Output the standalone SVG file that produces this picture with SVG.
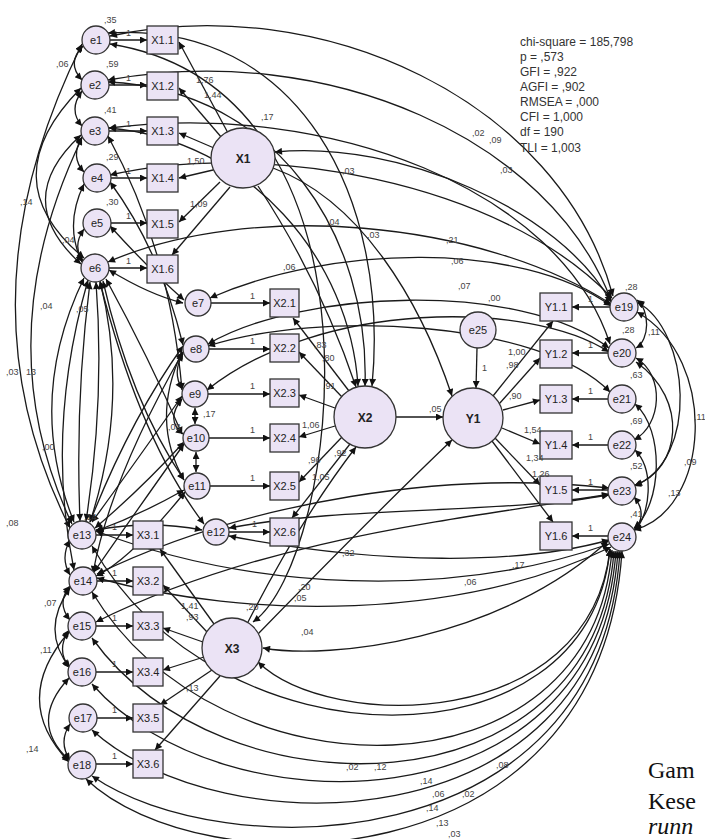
<svg xmlns="http://www.w3.org/2000/svg" width="705" height="839" viewBox="0 0 705 839">
<style>
.n circle,.n ellipse,.n rect{fill:#ebe3f5;stroke:#333;stroke-width:1.3}
.n text{font-family:"Liberation Sans",Arial,sans-serif;font-size:11px;fill:#222;text-anchor:middle}
.big text{font-size:12px;font-weight:bold}
#conn path{fill:none;stroke:#1a1a1a;stroke-width:1.3}
#conn .r{marker-end:url(#ah)}
#conn .c{marker-start:url(#ah);marker-end:url(#ah)}
.lb{font-family:"Liberation Sans",Arial,sans-serif;font-size:9px;fill:#444}
.st{font-family:"Liberation Sans",Arial,sans-serif;font-size:12px;fill:#333}
.cap{font-family:"Liberation Serif","Times New Roman",serif;font-size:24px;fill:#111}
</style>
<defs>
<marker id="ah" viewBox="0 0 10 10" refX="10" refY="5" markerWidth="10" markerHeight="7" markerUnits="userSpaceOnUse" orient="auto-start-reverse"><path d="M0,0 L10,5 L0,10 z" fill="#111"/></marker>
</defs>
<rect width="705" height="839" fill="#fff"/>
<g id="conn">
<!-- regressions e -> X1.i -->
<path class="r" d="M110,40 H147"/><path class="r" d="M109,85 H147"/><path class="r" d="M109,131 H147"/>
<path class="r" d="M111,178 H147"/><path class="r" d="M111,223 H147"/><path class="r" d="M109,268 H147"/>
<!-- X1 -> X1.i -->
<path class="r" d="M228,133 L179,42"/><path class="r" d="M222,138 L179,88"/><path class="r" d="M214,148 L179,133"/>
<path class="r" d="M213,170 L179,178"/><path class="r" d="M220,182 L179,222"/><path class="r" d="M230,187 L172,255"/>
<!-- e -> X2.i -->
<path class="r" d="M211,303 H270"/><path class="r" d="M209,349 H270"/><path class="r" d="M208,394 H270"/>
<path class="r" d="M209,438 H270"/><path class="r" d="M210,486 H270"/><path class="r" d="M229,532 H270"/>
<!-- X2 -> X2.i -->
<path class="r" d="M349,391 L293,318"/><path class="r" d="M342,397 L299,352"/><path class="r" d="M335,408 L299,395"/>
<path class="r" d="M335,426 L299,437"/><path class="r" d="M342,437 L299,482"/><path class="r" d="M350,444 L292,518"/>
<!-- e -> X3.i -->
<path class="r" d="M96,535 H133"/><path class="r" d="M97,581 H133"/><path class="r" d="M96,626 H133"/>
<path class="r" d="M96,672 H133"/><path class="r" d="M97,718 H133"/><path class="r" d="M96,764 H133"/>
<!-- X3 -> X3.i -->
<path class="r" d="M214,624 L160,549"/><path class="r" d="M207,632 L163,585"/><path class="r" d="M203,642 L163,628"/>
<path class="r" d="M204,657 L163,670"/><path class="r" d="M212,670 L160,705"/><path class="r" d="M220,676 L155,750"/>
<!-- e -> Y1.i -->
<path class="r" d="M610,307 H572"/><path class="r" d="M608,353 H572"/><path class="r" d="M608,399 H572"/>
<path class="r" d="M608,445 H572"/><path class="r" d="M608,490 H572"/><path class="r" d="M608,536 H572"/>
<!-- Y1 -> Y1.i -->
<path class="r" d="M493,396 L553,321"/><path class="r" d="M499,404 L540,358"/><path class="r" d="M503,410 L540,400"/>
<path class="r" d="M502,428 L540,444"/><path class="r" d="M495,438 L540,485"/><path class="r" d="M492,441 L553,522"/>
<!-- structural -->
<path class="r" d="M477,348 L476,388"/>
<path class="r" d="M396,417 L443,417"/>
<path class="r" d="M258,186 Q320,280 356,387"/>
<path class="r" d="M273,168 C360,200 420,300 452,396"/>
<path class="r" d="M258,634 C330,560 410,480 452,440"/>
<path class="r" d="M248,622 Q300,520 356,447"/>
<!-- covariances left column -->
<path class="c" d="M83,46 Q66,63 82,80"/>
<path class="c" d="M82,91 Q68,110 82,126"/>
<path class="c" d="M82,137 Q70,157 84,172"/>
<path class="c" d="M84,184 Q64,225 82,262"/>
<path class="c" d="M84,229 Q72,246 83,261"/>
<path class="c" d="M81,135 Q10,200 81,264"/>
<path class="c" d="M81,88 Q-10,180 84,258"/>
<path class="c" d="M82,44 Q-45,300 70,528"/>
<path class="c" d="M82,138 Q-15,340 72,524"/>
<path class="c" d="M84,278 Q25,400 74,522"/>
<path class="c" d="M88,280 Q45,430 74,570"/>
<path class="c" d="M90,282 Q75,400 80,521"/>
<path class="c" d="M96,282 Q105,400 86,521"/>
<path class="c" d="M100,281 Q130,400 90,522"/>
<path class="c" d="M110,226 Q150,270 184,300"/>
<path class="c" d="M109,270 Q150,295 183,303"/>
<path class="c" d="M110,182 Q160,250 183,345"/>
<path class="c" d="M108,136 Q170,250 182,390"/>
<path class="c" d="M106,279 Q150,360 182,434"/>
<path class="c" d="M103,281 Q130,400 184,480"/>
<path class="c" d="M100,282 Q140,440 204,524"/>
<!-- X2 errors -->
<path class="c" d="M183,354 Q172,372 182,389"/>
<path class="c" d="M195,408 V424"/>
<path class="c" d="M196,452 V472"/>
<path class="c" d="M182,399 Q165,420 183,434"/>
<path class="c" d="M182,352 Q150,420 184,480"/>
<path class="c" d="M183,346 Q130,420 90,522"/>
<path class="c" d="M182,396 Q130,470 92,522"/>
<path class="c" d="M184,442 Q140,490 95,528"/>
<path class="c" d="M184,490 Q140,515 96,531"/>
<path class="c" d="M184,444 Q130,520 94,572"/>
<path class="c" d="M185,492 Q130,560 96,576"/>
<path class="c" d="M183,352 Q110,480 93,573"/>
<path class="c" d="M96,530 Q150,520 202,530"/>
<!-- lower left -->
<path class="c" d="M70,540 Q60,558 70,575"/>
<path class="c" d="M70,586 Q56,603 70,620"/>
<path class="c" d="M69,630 Q56,650 69,667"/>
<path class="c" d="M70,588 Q40,630 70,668"/>
<path class="c" d="M69,678 Q28,722 69,760"/>
<path class="c" d="M70,724 Q58,742 70,760"/>
<path class="c" d="M69,632 Q10,700 69,762"/>
<!-- long arcs to e19/e20/e21 -->
<path class="c" d="M110,36 C320,-10 560,100 613,296"/>
<path class="c" d="M108,80 C330,40 550,140 611,300"/>
<path class="c" d="M109,128 C330,100 560,190 610,344"/>
<path class="c" d="M275,152 C400,140 560,210 611,302"/>
<path class="c" d="M110,175 C260,140 500,180 612,298"/>
<path class="c" d="M108,262 C250,200 480,220 611,304"/>
<path class="c" d="M210,298 C330,245 520,240 611,306"/>
<path class="c" d="M208,344 C300,290 520,280 609,348"/>
<path class="c" d="M207,390 C320,300 530,300 609,352"/>
<path class="c" d="M208,346 C320,310 540,320 610,392"/>
<!-- arcs to X2 top -->
<path class="c" d="M108,33 C300,20 390,200 372,386"/>
<path class="c" d="M108,82 C280,90 370,240 365,386"/>
<path class="c" d="M109,128 C250,140 350,260 358,386"/>
<!-- arcs to X3 -->
<path class="c" d="M110,44 C400,90 340,560 253,622"/>
<path class="c" d="M608,541 C500,640 330,660 263,648"/>
<!-- to e23/e24 -->
<path class="c" d="M229,528 C350,505 500,515 609,494"/>
<path class="c" d="M229,536 C380,565 520,565 609,540"/>
<path class="c" d="M96,531 C250,590 450,600 609,544"/>
<path class="c" d="M97,578 C250,620 460,620 611,547"/>
<path class="c" d="M97,574 C250,500 450,470 609,488"/>
<path class="c" d="M96,622 C260,540 450,520 609,495"/>
<!-- bottom U arcs -->
<path class="c" d="M92,546 C220,771 590,771 610,549"/>
<path class="c" d="M92,592 C220,803 592,803 612,550"/>
<path class="c" d="M92,638 C220,818 594,818 614,551"/>
<path class="c" d="M92,684 C220,831 596,831 616,551"/>
<path class="c" d="M92,730 C220,847 598,847 618,551"/>
<path class="c" d="M92,776 C220,865 600,865 620,551"/>
<path class="c" d="M86,779 C200,888 600,888 622,551"/>
<path class="c" d="M258,662 C330,732 590,732 610,549"/>
<!-- right side -->
<path class="c" d="M637,300 C650,310 650,340 636,348"/>
<path class="c" d="M637,302 C690,330 700,460 634,486"/>
<path class="c" d="M637,312 C720,360 710,510 634,530"/>
<path class="c" d="M636,358 C665,375 662,425 634,440"/>
<path class="c" d="M636,362 C690,400 680,470 635,485"/>
<path class="c" d="M635,404 C665,430 662,505 634,528"/>
<path class="c" d="M635,450 C655,470 650,515 635,530"/>
<path class="c" d="M634,497 C645,510 642,522 634,530"/>
</g>
<!-- nodes -->
<g id="e1" class="n"><circle cx="96" cy="40" r="14"/><text x="96" y="44">e1</text></g>
<g id="e2" class="n"><circle cx="95" cy="85" r="14"/><text x="95" y="89">e2</text></g>
<g id="e3" class="n"><circle cx="95" cy="131" r="14"/><text x="95" y="135">e3</text></g>
<g id="e4" class="n"><circle cx="97" cy="178" r="14"/><text x="97" y="182">e4</text></g>
<g id="e5" class="n"><circle cx="97" cy="223" r="14"/><text x="97" y="227">e5</text></g>
<g id="e6" class="n"><circle cx="95" cy="268" r="14"/><text x="95" y="272">e6</text></g>
<g id="X1.1" class="n"><rect x="147" y="26" width="31" height="28"/><text x="162.5" y="44">X1.1</text></g>
<g id="X1.2" class="n"><rect x="147" y="72" width="31" height="28"/><text x="162.5" y="90">X1.2</text></g>
<g id="X1.3" class="n"><rect x="147" y="117" width="31" height="28"/><text x="162.5" y="135">X1.3</text></g>
<g id="X1.4" class="n"><rect x="147" y="164" width="31" height="28"/><text x="162.5" y="182">X1.4</text></g>
<g id="X1.5" class="n"><rect x="147" y="210" width="31" height="28"/><text x="162.5" y="228">X1.5</text></g>
<g id="X1.6" class="n"><rect x="147" y="255" width="31" height="28"/><text x="162.5" y="273">X1.6</text></g>
<g id="X1" class="n big"><ellipse cx="243" cy="158" rx="32" ry="30"/><text x="243" y="163">X1</text></g>
<g id="e7" class="n"><circle cx="198" cy="303" r="13"/><text x="198" y="307">e7</text></g>
<g id="e8" class="n"><circle cx="196" cy="349" r="13"/><text x="196" y="353">e8</text></g>
<g id="e9" class="n"><circle cx="195" cy="394" r="13"/><text x="195" y="398">e9</text></g>
<g id="e10" class="n"><circle cx="196" cy="438" r="13"/><text x="196" y="442">e10</text></g>
<g id="e11" class="n"><circle cx="197" cy="486" r="13"/><text x="197" y="490">e11</text></g>
<g id="e12" class="n"><circle cx="216" cy="532" r="13"/><text x="216" y="536">e12</text></g>
<g id="X2.1" class="n"><rect x="270" y="289" width="29" height="28"/><text x="284.5" y="307">X2.1</text></g>
<g id="X2.2" class="n"><rect x="270" y="334" width="29" height="28"/><text x="284.5" y="352">X2.2</text></g>
<g id="X2.3" class="n"><rect x="270" y="379" width="29" height="28"/><text x="284.5" y="397">X2.3</text></g>
<g id="X2.4" class="n"><rect x="270" y="424" width="29" height="28"/><text x="284.5" y="442">X2.4</text></g>
<g id="X2.5" class="n"><rect x="270" y="472" width="29" height="28"/><text x="284.5" y="490">X2.5</text></g>
<g id="X2.6" class="n"><rect x="270" y="518" width="29" height="28"/><text x="284.5" y="536">X2.6</text></g>
<g id="X2" class="n big"><circle cx="365" cy="417" r="31"/><text x="365" y="422">X2</text></g>
<g id="Y1" class="n big"><circle cx="473" cy="418" r="30"/><text x="473" y="423">Y1</text></g>
<g id="e25" class="n"><circle cx="478" cy="330" r="18"/><text x="478" y="334">e25</text></g>
<g id="Y1.1" class="n"><rect x="540" y="293" width="32" height="28"/><text x="556" y="311">Y1.1</text></g>
<g id="Y1.2" class="n"><rect x="540" y="340" width="32" height="28"/><text x="556" y="358">Y1.2</text></g>
<g id="Y1.3" class="n"><rect x="540" y="385" width="32" height="28"/><text x="556" y="403">Y1.3</text></g>
<g id="Y1.4" class="n"><rect x="540" y="431" width="32" height="28"/><text x="556" y="449">Y1.4</text></g>
<g id="Y1.5" class="n"><rect x="540" y="476" width="32" height="28"/><text x="556" y="494">Y1.5</text></g>
<g id="Y1.6" class="n"><rect x="540" y="522" width="32" height="28"/><text x="556" y="540">Y1.6</text></g>
<g id="e19" class="n"><circle cx="624" cy="307" r="14"/><text x="624" y="311">e19</text></g>
<g id="e20" class="n"><circle cx="622" cy="353" r="14"/><text x="622" y="357">e20</text></g>
<g id="e21" class="n"><circle cx="622" cy="399" r="14"/><text x="622" y="403">e21</text></g>
<g id="e22" class="n"><circle cx="622" cy="445" r="14"/><text x="622" y="449">e22</text></g>
<g id="e23" class="n"><circle cx="622" cy="491" r="14"/><text x="622" y="495">e23</text></g>
<g id="e24" class="n"><circle cx="622" cy="537" r="14"/><text x="622" y="541">e24</text></g>
<g id="e13" class="n"><circle cx="82" cy="535" r="14"/><text x="82" y="539">e13</text></g>
<g id="e14" class="n"><circle cx="83" cy="581" r="14"/><text x="83" y="585">e14</text></g>
<g id="e15" class="n"><circle cx="82" cy="626" r="14"/><text x="82" y="630">e15</text></g>
<g id="e16" class="n"><circle cx="82" cy="672" r="14"/><text x="82" y="676">e16</text></g>
<g id="e17" class="n"><circle cx="83" cy="718" r="14"/><text x="83" y="722">e17</text></g>
<g id="e18" class="n"><circle cx="82" cy="765" r="14"/><text x="82" y="769">e18</text></g>
<g id="X3.1" class="n"><rect x="133" y="521" width="30" height="28"/><text x="148" y="539">X3.1</text></g>
<g id="X3.2" class="n"><rect x="133" y="567" width="30" height="28"/><text x="148" y="585">X3.2</text></g>
<g id="X3.3" class="n"><rect x="133" y="612" width="30" height="28"/><text x="148" y="630">X3.3</text></g>
<g id="X3.4" class="n"><rect x="133" y="658" width="30" height="28"/><text x="148" y="676">X3.4</text></g>
<g id="X3.5" class="n"><rect x="133" y="704" width="30" height="28"/><text x="148" y="722">X3.5</text></g>
<g id="X3.6" class="n"><rect x="133" y="750" width="30" height="28"/><text x="148" y="768">X3.6</text></g>
<g id="X3" class="n big"><circle cx="232" cy="648" r="30"/><text x="232" y="653">X3</text></g>
<!-- labels -->
<g id="labels" class="lb">
<text x="104" y="23">,35</text><text x="106" y="67">,59</text><text x="104" y="113">,41</text><text x="106" y="160">,29</text><text x="106" y="205">,30</text>
<text x="126" y="36">1</text><text x="126" y="81">1</text><text x="126" y="127">1</text><text x="126" y="174">1</text><text x="126" y="219">1</text><text x="126" y="264">1</text>
<text x="196" y="83">1,76</text><text x="204" y="98">1,44</text><text x="187" y="164">1,50</text><text x="190" y="207">1,09</text><text x="261" y="120">,17</text>
<text x="56" y="67">,06</text><text x="20" y="205">,14</text><text x="62" y="243">,04</text><text x="40" y="309">,04</text><text x="76" y="312">,05</text>
<text x="6" y="375">,03</text><text x="26" y="375">13</text><text x="42" y="450">,00</text><text x="6" y="526">,08</text><text x="84" y="520">,14</text>
<text x="44" y="606">,07</text><text x="40" y="653">,11</text><text x="26" y="752">,14</text>
<text x="250" y="299">1</text><text x="250" y="344">1</text><text x="250" y="389">1</text><text x="250" y="433">1</text><text x="250" y="481">1</text><text x="252" y="527">1</text>
<text x="203" y="417">,17</text><text x="168" y="430">,03</text>
<text x="314" y="348">,83</text><text x="322" y="361">,80</text><text x="323" y="389">,91</text><text x="302" y="428">1,06</text><text x="308" y="463">,96</text><text x="334" y="456">,92</text><text x="312" y="480">1,05</text>
<text x="472" y="136">,02</text><text x="489" y="143">,09</text><text x="342" y="174">,03</text><text x="500" y="173">,03</text>
<text x="327" y="225">,04</text><text x="367" y="238">,03</text><text x="446" y="243">,21</text><text x="283" y="270">,06</text><text x="451" y="264">,06</text><text x="458" y="289">,07</text><text x="488" y="301">,00</text>
<text x="482" y="371">1</text><text x="429" y="412">,05</text>
<text x="508" y="355">1,00</text><text x="506" y="368">,98</text><text x="509" y="399">,90</text><text x="524" y="433">1,54</text><text x="526" y="461">1,34</text><text x="532" y="477">1,26</text>
<text x="588" y="302">1</text><text x="588" y="348">1</text><text x="588" y="394">1</text><text x="588" y="440">1</text><text x="588" y="485">1</text><text x="588" y="531">1</text>
<text x="625" y="290">,28</text><text x="622" y="333">,28</text><text x="648" y="335">,11</text><text x="630" y="378">,63</text><text x="630" y="424">,69</text><text x="630" y="469">,52</text><text x="630" y="517">,41</text>
<text x="684" y="465">,09</text><text x="668" y="496">,13</text><text x="694" y="420">,11</text>
<text x="112" y="530">1</text><text x="112" y="576">1</text><text x="112" y="621">1</text><text x="112" y="667">1</text><text x="112" y="713">1</text><text x="112" y="759">1</text>
<text x="181" y="609">1,41</text><text x="186" y="620">,93</text><text x="186" y="691">,13</text>
<text x="246" y="610">,20</text><text x="301" y="635">,04</text><text x="342" y="556">,32</text><text x="298" y="590">,20</text><text x="294" y="601">,05</text>
<text x="464" y="585">,06</text><text x="512" y="568">,17</text>
<text x="346" y="770">,02</text><text x="374" y="770">,12</text><text x="496" y="768">,08</text><text x="420" y="784">,14</text><text x="432" y="797">,06</text><text x="462" y="797">,02</text><text x="426" y="811">,14</text><text x="436" y="826">,13</text><text x="448" y="837">,03</text>
</g>
<g id="stats" class="st">
<text x="520" y="46">chi-square = 185,798</text>
<text x="520" y="61">p = ,573</text>
<text x="520" y="76">GFI = ,922</text>
<text x="520" y="91">AGFI = ,902</text>
<text x="520" y="106">RMSEA = ,000</text>
<text x="520" y="121">CFI = 1,000</text>
<text x="520" y="136">df = 190</text>
<text x="520" y="152">TLI = 1,003</text>
</g>
<g id="caption" class="cap">
<text x="648" y="778">Gam</text>
<text x="648" y="809">Kese</text>
<text x="648" y="834" font-style="italic">runn</text>
</g>
</svg>
